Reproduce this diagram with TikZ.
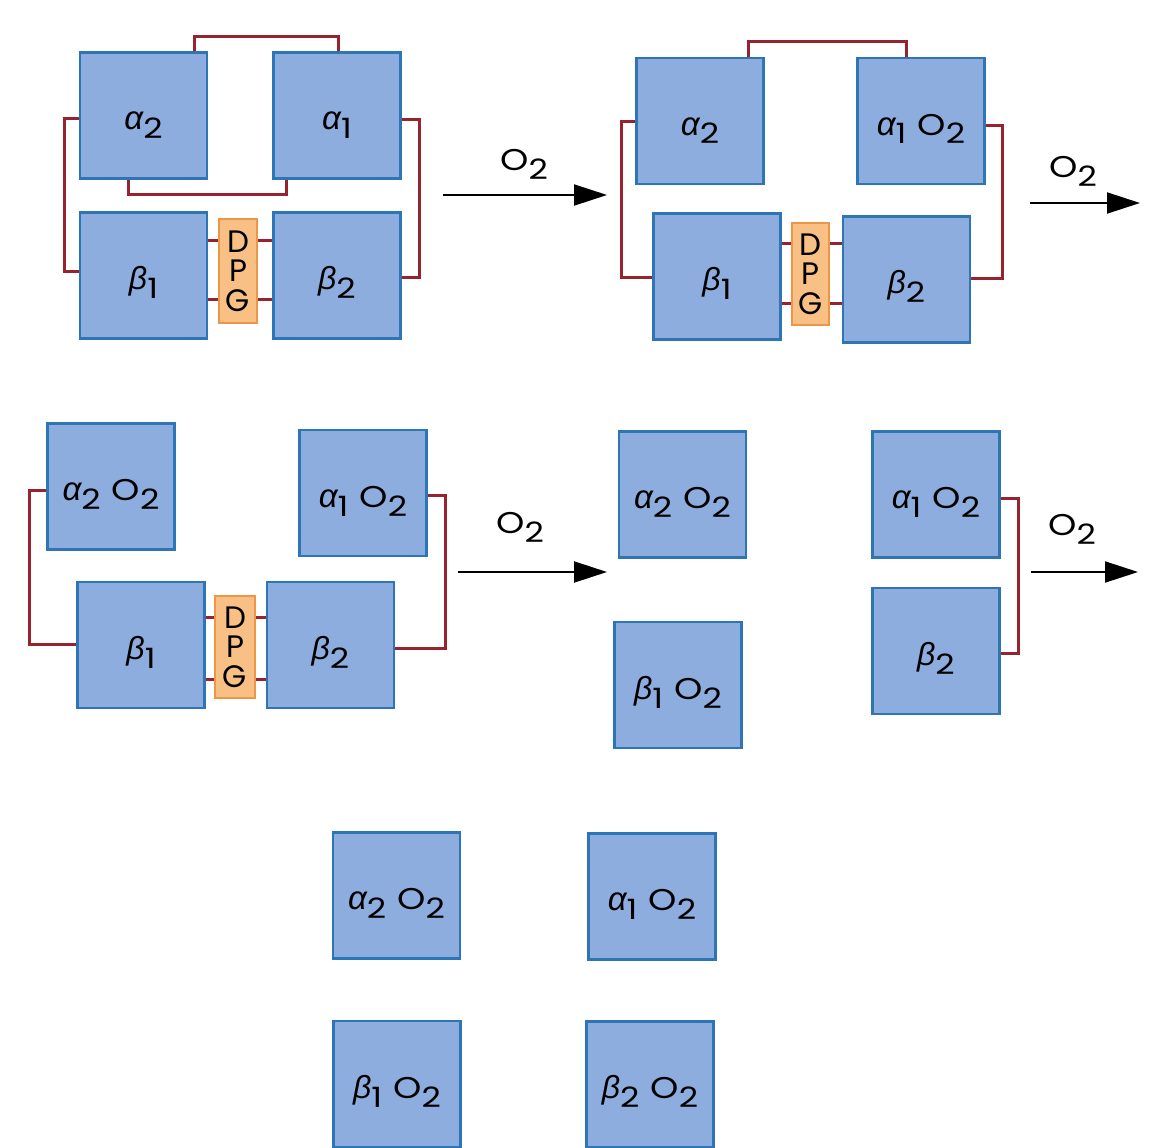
\documentclass[tikz,border=0pt]{standalone}
\usepackage{fontspec}
\setmainfont[FakeStretch=1.2]{Poppins}
\newfontfamily\dpgfont{Poppins}
\newfontfamily\grkfont{Liberation Sans}
\usetikzlibrary{arrows.meta}
\definecolor{boxfill}{RGB}{141,173,222}
\definecolor{boxline}{RGB}{46,117,182}
\definecolor{dpgfill}{RGB}{248,192,132}
\definecolor{dpgline}{RGB}{236,150,70}
\definecolor{linkred}{RGB}{150,35,45}
\newcommand{\mysub}[1]{\raisebox{-9pt}{\fontsize{28}{28}\selectfont #1}}
\newcommand{\myalpha}[1]{{\grkfont\itshape\fontsize{33}{33}\selectfont α}\mysub{#1}}
\newcommand{\mybeta}[1]{{\grkfont\itshape\fontsize{32}{32}\selectfont β}\mysub{#1}}
\newcommand{\myoxy}{\hspace{11pt}O\mysub{2}}
\pgfdeclarelayer{back}
\pgfsetlayers{back,main}
\tikzset{
  sub/.style={draw=boxline, fill=boxfill, line width=2.5pt, minimum width=127pt,
    minimum height=126pt, inner sep=0pt, text height=28pt, text depth=0pt,
    font=\fontsize{30}{32}\selectfont},
  dpgbox/.style={draw=dpgline, fill=dpgfill, line width=2.2pt, minimum width=38pt,
    minimum height=104pt, inner sep=0pt, align=center, font=\dpgfont\fontsize{31}{29.5}\selectfont},
  link/.style={draw=linkred, line width=3pt},
  flow/.style={draw=black, line width=2pt, -{Triangle[length=33pt,width=21pt]}},
  olbl/.style={font=\fontsize{30}{32}\selectfont, inner sep=0pt, anchor=base west}
}
\begin{document}
\begin{tikzpicture}[x=1pt,y=-1pt]
\useasboundingbox (0,0) rectangle (1157,1148);
% ---------- group 1 (top left) ----------
\node[sub] (A2) at (143.5,115.5) {\myalpha{2}};
\node[sub] (A1) at (337,115.5) {\myalpha{1}};
\node[sub] (B1) at (143.5,275.5) {\mybeta{1}};
\node[sub] (B2) at (337,275.5) {\mybeta{2}};
\node[dpgbox] (D1) at (238,271) {D\\P\\G};
\begin{pgfonlayer}{back}
\draw[link] (A2.north -| 194,0) -- (194,37) -- (338,37) -- (A1.north -| 338,0);
\draw[link] (A2.south -| 128,0) -- (128,194) -- (286,194) -- (A1.south -| 286,0);
\draw[link] (A2.west |- 0,118) -- (64,118) -- (64,271) -- (B1.west |- 0,271);
\draw[link] (A1.east |- 0,119) -- (419,119) -- (419,277) -- (B2.east |- 0,277);
\draw[link] (B1.east |- 0,240) -- (D1.west |- 0,240);
\draw[link] (D1.east |- 0,240) -- (B2.west |- 0,240);
\draw[link] (B1.east |- 0,299) -- (D1.west |- 0,299);
\draw[link] (D1.east |- 0,299) -- (B2.west |- 0,299);
\end{pgfonlayer}
% arrow 1
\coordinate (f1s) at (443,195); \coordinate (f1e) at (607,195);
\draw[flow] (f1s) -- (f1e);
\node[olbl] (f1l) at (500,170) {O\mysub{2}};
% ---------- group 2 (top right) ----------
\node[sub] (P2) at (700,121) {\myalpha{2}};
\node[sub] (P1) at (921,121) {\myalpha{1}\myoxy};
\node[sub] (Q1) at (717,276.5) {\mybeta{1}};
\node[sub] (Q2) at (906.5,279.5) {\mybeta{2}};
\node[dpgbox, minimum width=37pt, minimum height=102pt] (D2) at (810.5,274) {D\\P\\G};
\begin{pgfonlayer}{back}
\draw[link] (P2.north -| 748,0) -- (748,42) -- (906,42) -- (P1.north -| 906,0);
\draw[link] (P2.west |- 0,121) -- (621,121) -- (621,277) -- (Q1.west |- 0,277);
\draw[link] (P1.east |- 0,125) -- (1002,125) -- (1002,278) -- (Q2.east |- 0,278);
\draw[link] (Q1.east |- 0,243) -- (D2.west |- 0,243);
\draw[link] (D2.east |- 0,243) -- (Q2.west |- 0,243);
\draw[link] (Q1.east |- 0,303) -- (D2.west |- 0,303);
\draw[link] (D2.east |- 0,303) -- (Q2.west |- 0,303);
\end{pgfonlayer}
% arrow 2
\coordinate (f2s) at (1030,203); \coordinate (f2e) at (1140,203);
\draw[flow] (f2s) -- (f2e);
\node[olbl] (f2l) at (1049,177) {O\mysub{2}};
% ---------- group 3 (middle left) ----------
\node[sub] (R2) at (111,486.5) {\myalpha{2}\myoxy};
\node[sub] (R1) at (363,493) {\myalpha{1}\myoxy};
\node[sub] (S1) at (141,645) {\mybeta{1}};
\node[sub] (S2) at (330.5,645) {\mybeta{2}};
\node[dpgbox, minimum width=40pt, minimum height=102pt] (D3) at (235,647) {D\\P\\G};
\begin{pgfonlayer}{back}
\draw[link] (R2.west |- 0,490) -- (29,490) -- (29,644) -- (S1.west |- 0,644);
\draw[link] (R1.east |- 0,495) -- (445,495) -- (445,648) -- (S2.east |- 0,648);
\draw[link] (S1.east |- 0,617) -- (D3.west |- 0,617);
\draw[link] (D3.east |- 0,617) -- (S2.west |- 0,617);
\draw[link] (S1.east |- 0,679) -- (D3.west |- 0,679);
\draw[link] (D3.east |- 0,679) -- (S2.west |- 0,679);
\end{pgfonlayer}
% arrow 3
\coordinate (f3s) at (458,572); \coordinate (f3e) at (607,572);
\draw[flow] (f3s) -- (f3e);
\node[olbl] (f3l) at (496,533) {O\mysub{2}};
% ---------- group 4 (middle) ----------
\node[sub] (M1) at (682.5,494.5) {\myalpha{2}\myoxy};
\node[sub] (M2) at (678,685) {\mybeta{1}\myoxy};
% ---------- group 5 (middle right) ----------
\node[sub] (T1) at (936,494.5) {\myalpha{1}\myoxy};
\node[sub] (T2) at (936,651) {\mybeta{2}};
\begin{pgfonlayer}{back}
\draw[link] (T1.east |- 0,498) -- (1018,498) -- (1018,653) -- (T2.east |- 0,653);
\end{pgfonlayer}
% arrow 4
\coordinate (f4s) at (1031,572); \coordinate (f4e) at (1138,572);
\draw[flow] (f4s) -- (f4e);
\node[olbl] (f4l) at (1048,535) {O\mysub{2}};
% ---------- group 6 (bottom) ----------
\node[sub] (U1) at (396.5,895.5) {\myalpha{2}\myoxy};
\node[sub] (U2) at (652,896.5) {\myalpha{1}\myoxy};
\node[sub] (U3) at (397,1084) {\mybeta{1}\myoxy};
\node[sub] (U4) at (650,1084.5) {\mybeta{2}\myoxy};
\end{tikzpicture}
\end{document}
